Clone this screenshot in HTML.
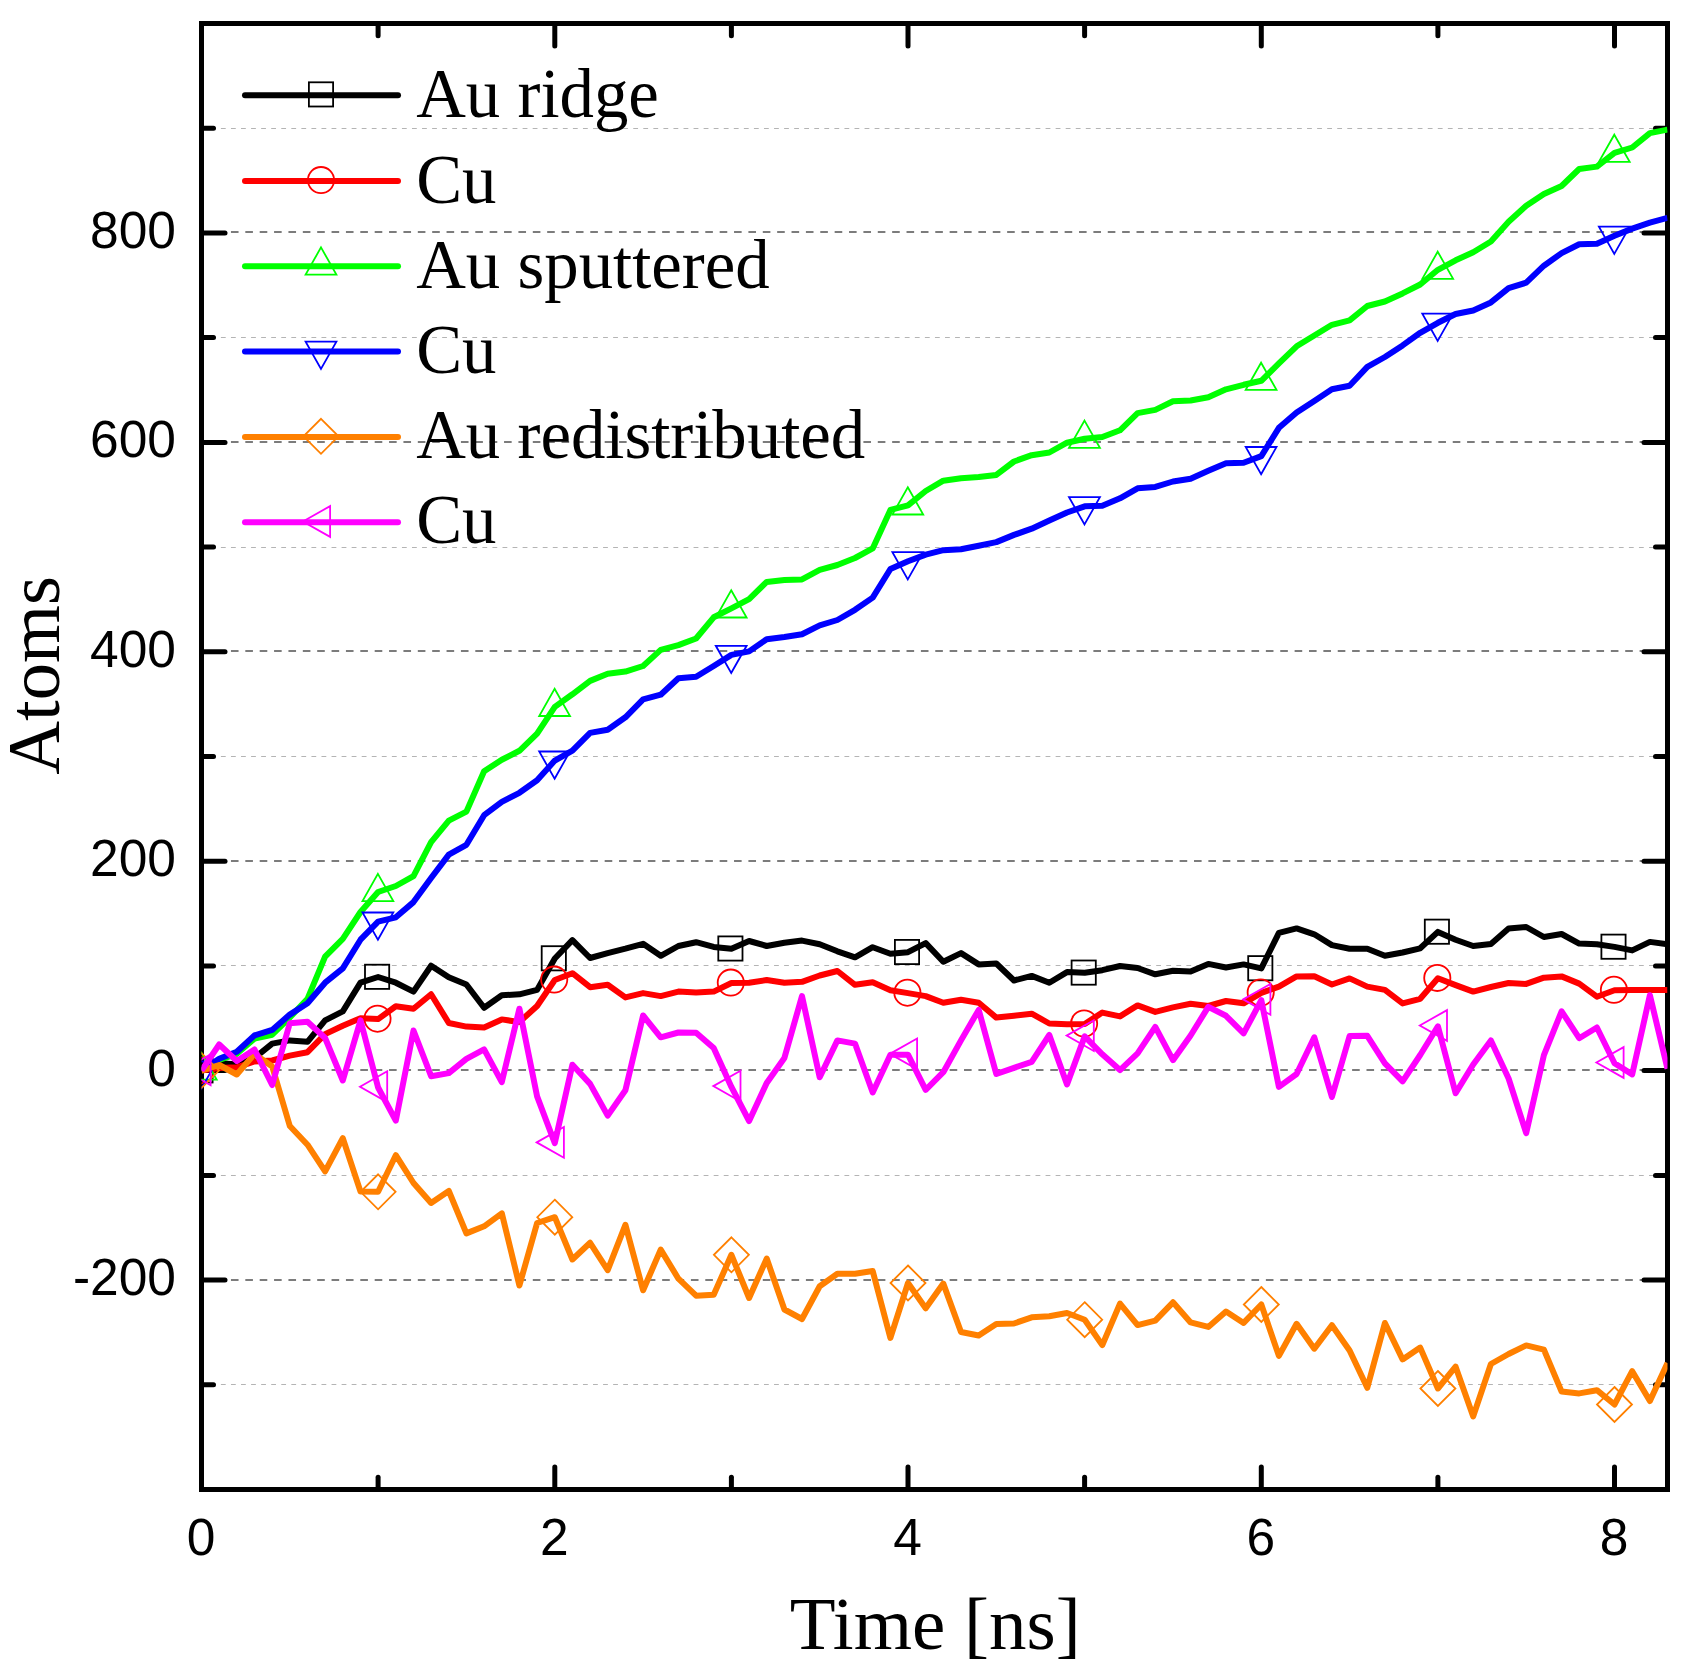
<!DOCTYPE html>
<html lang="en"><head><meta charset="utf-8"><title>Atoms vs Time</title>
<style>html,body{margin:0;padding:0;background:#fff}svg{display:block}
.tk{font-family:"Liberation Sans",Arial,sans-serif;font-size:51.5px;fill:#000}
.lg{font-family:"Liberation Serif","Times New Roman",serif;font-size:68.8px;fill:#000}
.ax{font-family:"Liberation Serif","Times New Roman",serif;font-size:75px;fill:#000}
</style></head><body>
<svg width="1689" height="1675" viewBox="0 0 1689 1675">
<rect width="1689" height="1675" fill="#fff"/>
<defs><clipPath id="pa"><rect x="201.5" y="23.5" width="1466" height="1466"/></clipPath></defs>
<g fill="none">
<line x1="200.8" y1="1384.5" x2="1667.5" y2="1384.5" stroke="#b4b4b4" stroke-width="1" stroke-dasharray="4.8 5.257"/>
<line x1="202.2" y1="1280.0" x2="1667.5" y2="1280.0" stroke="#7c7c7c" stroke-width="2" stroke-dasharray="7.6 6.774"/>
<line x1="200.8" y1="1175.5" x2="1667.5" y2="1175.5" stroke="#b4b4b4" stroke-width="1" stroke-dasharray="4.8 5.257"/>
<line x1="202.2" y1="1070.0" x2="1667.5" y2="1070.0" stroke="#7c7c7c" stroke-width="2" stroke-dasharray="7.6 6.774"/>
<line x1="200.8" y1="965.5" x2="1667.5" y2="965.5" stroke="#b4b4b4" stroke-width="1" stroke-dasharray="4.8 5.257"/>
<line x1="202.2" y1="861.0" x2="1667.5" y2="861.0" stroke="#7c7c7c" stroke-width="2" stroke-dasharray="7.6 6.774"/>
<line x1="200.8" y1="756.5" x2="1667.5" y2="756.5" stroke="#b4b4b4" stroke-width="1" stroke-dasharray="4.8 5.257"/>
<line x1="202.2" y1="651.0" x2="1667.5" y2="651.0" stroke="#7c7c7c" stroke-width="2" stroke-dasharray="7.6 6.774"/>
<line x1="200.8" y1="547.5" x2="1667.5" y2="547.5" stroke="#b4b4b4" stroke-width="1" stroke-dasharray="4.8 5.257"/>
<line x1="202.2" y1="442.0" x2="1667.5" y2="442.0" stroke="#7c7c7c" stroke-width="2" stroke-dasharray="7.6 6.774"/>
<line x1="200.8" y1="337.5" x2="1667.5" y2="337.5" stroke="#b4b4b4" stroke-width="1" stroke-dasharray="4.8 5.257"/>
<line x1="202.2" y1="232.0" x2="1667.5" y2="232.0" stroke="#7c7c7c" stroke-width="2" stroke-dasharray="7.6 6.774"/>
<line x1="200.8" y1="128.5" x2="1667.5" y2="128.5" stroke="#b4b4b4" stroke-width="1" stroke-dasharray="4.8 5.257"/>
</g>
<g stroke="#000" stroke-width="5" fill="none" stroke-linecap="round">
<rect x="201.5" y="23.5" width="1466" height="1466" stroke-linejoin="miter"/>
<line x1="378.1" y1="1489.5" x2="378.1" y2="1477.3"/><line x1="378.1" y1="23.5" x2="378.1" y2="35.7"/>
<line x1="554.8" y1="1489.5" x2="554.8" y2="1467"/><line x1="554.8" y1="23.5" x2="554.8" y2="46"/>
<line x1="731.4" y1="1489.5" x2="731.4" y2="1477.3"/><line x1="731.4" y1="23.5" x2="731.4" y2="35.7"/>
<line x1="908.0" y1="1489.5" x2="908.0" y2="1467"/><line x1="908.0" y1="23.5" x2="908.0" y2="46"/>
<line x1="1084.6" y1="1489.5" x2="1084.6" y2="1477.3"/><line x1="1084.6" y1="23.5" x2="1084.6" y2="35.7"/>
<line x1="1261.3" y1="1489.5" x2="1261.3" y2="1467"/><line x1="1261.3" y1="23.5" x2="1261.3" y2="46"/>
<line x1="1437.9" y1="1489.5" x2="1437.9" y2="1477.3"/><line x1="1437.9" y1="23.5" x2="1437.9" y2="35.7"/>
<line x1="1614.5" y1="1489.5" x2="1614.5" y2="1467"/><line x1="1614.5" y1="23.5" x2="1614.5" y2="46"/>
<line x1="201.5" y1="1384.8" x2="213.5" y2="1384.8"/><line x1="1667.5" y1="1384.8" x2="1655.5" y2="1384.8"/>
<line x1="201.5" y1="1280.1" x2="225" y2="1280.1"/><line x1="1667.5" y1="1280.1" x2="1644" y2="1280.1"/>
<line x1="201.5" y1="1175.4" x2="213.5" y2="1175.4"/><line x1="1667.5" y1="1175.4" x2="1655.5" y2="1175.4"/>
<line x1="201.5" y1="1070.6" x2="225" y2="1070.6"/><line x1="1667.5" y1="1070.6" x2="1644" y2="1070.6"/>
<line x1="201.5" y1="965.9" x2="213.5" y2="965.9"/><line x1="1667.5" y1="965.9" x2="1655.5" y2="965.9"/>
<line x1="201.5" y1="861.2" x2="225" y2="861.2"/><line x1="1667.5" y1="861.2" x2="1644" y2="861.2"/>
<line x1="201.5" y1="756.5" x2="213.5" y2="756.5"/><line x1="1667.5" y1="756.5" x2="1655.5" y2="756.5"/>
<line x1="201.5" y1="651.8" x2="225" y2="651.8"/><line x1="1667.5" y1="651.8" x2="1644" y2="651.8"/>
<line x1="201.5" y1="547.1" x2="213.5" y2="547.1"/><line x1="1667.5" y1="547.1" x2="1655.5" y2="547.1"/>
<line x1="201.5" y1="442.4" x2="225" y2="442.4"/><line x1="1667.5" y1="442.4" x2="1644" y2="442.4"/>
<line x1="201.5" y1="337.6" x2="213.5" y2="337.6"/><line x1="1667.5" y1="337.6" x2="1655.5" y2="337.6"/>
<line x1="201.5" y1="232.9" x2="225" y2="232.9"/><line x1="1667.5" y1="232.9" x2="1644" y2="232.9"/>
<line x1="201.5" y1="128.2" x2="213.5" y2="128.2"/><line x1="1667.5" y1="128.2" x2="1655.5" y2="128.2"/>
</g>
<g clip-path="url(#pa)">
<polyline points="201.5,1070.6 219.2,1063.0 236.8,1064.5 254.5,1058.0 272.2,1043.6 289.8,1040.4 307.5,1041.8 325.1,1020.3 342.8,1011.3 360.5,982.7 378.1,977.0 395.8,982.7 413.5,991.6 431.1,965.7 448.8,977.3 466.4,984.5 484.1,1007.8 501.8,995.2 519.4,994.3 537.1,989.9 554.8,958.5 572.4,940.2 590.1,958.0 607.7,953.1 625.4,948.7 643.1,943.8 660.7,955.8 678.4,946.0 696.1,942.2 713.7,946.9 731.4,948.7 749.1,941.0 766.7,946.0 784.4,942.7 802.0,940.6 819.7,944.2 837.4,951.3 855.0,957.3 872.7,947.2 890.4,953.7 908.0,952.2 925.7,943.1 943.3,961.7 961.0,953.1 978.7,964.4 996.3,963.5 1014.0,980.5 1031.7,975.9 1049.3,982.7 1067.0,972.1 1084.7,972.8 1102.3,970.2 1120.0,966.0 1137.6,968.0 1155.3,974.3 1173.0,970.7 1190.6,971.6 1208.3,963.9 1226.0,967.5 1243.6,964.4 1261.3,968.4 1278.9,932.9 1296.6,928.4 1314.3,934.3 1331.9,945.1 1349.6,948.7 1367.3,948.7 1384.9,955.8 1402.6,952.5 1420.2,948.3 1437.9,931.9 1455.6,939.7 1473.2,946.0 1490.9,944.0 1508.6,928.6 1526.2,927.0 1543.9,937.0 1561.6,934.0 1579.2,943.6 1596.9,944.2 1614.5,946.9 1632.2,950.4 1649.9,941.9 1667.5,944.2" fill="none" stroke="#000000" stroke-width="6" stroke-linejoin="round" stroke-linecap="butt"/>
<rect x="188.4" y="1058.3" width="24.2" height="24.2" stroke="#000000" stroke-width="1.8" fill="none"/>
<rect x="365.0" y="964.7" width="24.2" height="24.2" stroke="#000000" stroke-width="1.8" fill="none"/>
<rect x="541.7" y="946.2" width="24.2" height="24.2" stroke="#000000" stroke-width="1.8" fill="none"/>
<rect x="718.3" y="936.4" width="24.2" height="24.2" stroke="#000000" stroke-width="1.8" fill="none"/>
<rect x="894.9" y="939.9" width="24.2" height="24.2" stroke="#000000" stroke-width="1.8" fill="none"/>
<rect x="1071.6" y="960.5" width="24.2" height="24.2" stroke="#000000" stroke-width="1.8" fill="none"/>
<rect x="1248.2" y="956.1" width="24.2" height="24.2" stroke="#000000" stroke-width="1.8" fill="none"/>
<rect x="1424.8" y="919.6" width="24.2" height="24.2" stroke="#000000" stroke-width="1.8" fill="none"/>
<rect x="1601.4" y="934.6" width="24.2" height="24.2" stroke="#000000" stroke-width="1.8" fill="none"/>
<polyline points="201.5,1070.6 219.2,1068.0 236.8,1067.3 254.5,1061.5 272.2,1060.5 289.8,1055.6 307.5,1052.2 325.1,1034.1 342.8,1025.7 360.5,1018.2 378.1,1019.1 395.8,1006.3 413.5,1008.7 431.1,994.3 448.8,1023.0 466.4,1026.6 484.1,1027.5 501.8,1019.4 519.4,1022.1 537.1,1006.0 554.8,980.0 572.4,973.2 590.1,987.2 607.7,984.8 625.4,997.4 643.1,993.1 660.7,996.1 678.4,991.6 696.1,992.5 713.7,991.6 731.4,983.0 749.1,982.7 766.7,980.0 784.4,982.7 802.0,981.8 819.7,975.5 837.4,971.0 855.0,984.8 872.7,982.3 890.4,990.2 908.0,993.1 925.7,996.1 943.3,1002.8 961.0,999.7 978.7,1002.8 996.3,1017.6 1014.0,1015.8 1031.7,1013.7 1049.3,1023.5 1067.0,1024.2 1084.7,1023.9 1102.3,1012.6 1120.0,1016.4 1137.6,1005.4 1155.3,1011.9 1173.0,1007.4 1190.6,1003.8 1208.3,1006.0 1226.0,1001.0 1243.6,1003.3 1261.3,992.9 1278.9,986.6 1296.6,976.4 1314.3,976.2 1331.9,984.5 1349.6,978.4 1367.3,986.6 1384.9,989.9 1402.6,1003.4 1420.2,998.8 1437.9,978.3 1455.6,985.1 1473.2,991.6 1490.9,987.0 1508.6,983.0 1526.2,983.9 1543.9,977.7 1561.6,976.4 1579.2,983.6 1596.9,996.7 1614.5,990.2 1632.2,989.9 1649.9,989.9 1667.5,989.9" fill="none" stroke="#ff0000" stroke-width="6" stroke-linejoin="round" stroke-linecap="butt"/>
<circle cx="200.9" cy="1070.2" r="13.1" stroke="#ff0000" stroke-width="1.8" fill="none"/>
<circle cx="377.5" cy="1018.7" r="13.1" stroke="#ff0000" stroke-width="1.8" fill="none"/>
<circle cx="554.2" cy="979.6" r="13.1" stroke="#ff0000" stroke-width="1.8" fill="none"/>
<circle cx="730.8" cy="982.6" r="13.1" stroke="#ff0000" stroke-width="1.8" fill="none"/>
<circle cx="907.4" cy="992.7" r="13.1" stroke="#ff0000" stroke-width="1.8" fill="none"/>
<circle cx="1084.1" cy="1023.5" r="13.1" stroke="#ff0000" stroke-width="1.8" fill="none"/>
<circle cx="1260.7" cy="992.5" r="13.1" stroke="#ff0000" stroke-width="1.8" fill="none"/>
<circle cx="1437.3" cy="977.9" r="13.1" stroke="#ff0000" stroke-width="1.8" fill="none"/>
<circle cx="1613.9" cy="989.8" r="13.1" stroke="#ff0000" stroke-width="1.8" fill="none"/>
<polyline points="201.5,1070.6 219.2,1060.0 236.8,1053.8 254.5,1038.6 272.2,1034.7 289.8,1017.5 307.5,998.8 325.1,956.7 342.8,938.8 360.5,912.0 378.1,892.0 395.8,886.0 413.5,876.1 431.1,842.1 448.8,820.6 466.4,811.6 484.1,771.3 501.8,759.7 519.4,750.8 537.1,733.7 554.8,706.9 572.4,694.3 590.1,680.9 607.7,673.7 625.4,671.6 643.1,666.0 660.7,649.9 678.4,645.1 696.1,638.5 713.7,617.3 731.4,608.4 749.1,599.1 766.7,581.9 784.4,580.1 802.0,579.4 819.7,569.9 837.4,565.0 855.0,558.0 872.7,548.4 890.4,509.9 908.0,505.4 925.7,491.0 943.3,480.7 961.0,478.2 978.7,477.1 996.3,474.9 1014.0,461.5 1031.7,455.2 1049.3,452.5 1067.0,442.7 1084.7,438.7 1102.3,437.0 1120.0,430.3 1137.6,413.1 1155.3,409.9 1173.0,401.3 1190.6,400.5 1208.3,397.3 1226.0,389.3 1243.6,384.8 1261.3,380.8 1278.9,363.3 1296.6,346.3 1314.3,335.5 1331.9,324.8 1349.6,320.3 1367.3,306.0 1384.9,301.5 1402.6,293.4 1420.2,284.5 1437.9,269.8 1455.6,260.3 1473.2,252.2 1490.9,241.5 1508.6,221.8 1526.2,205.7 1543.9,194.0 1561.6,186.0 1579.2,169.0 1596.9,166.6 1614.5,152.8 1632.2,147.5 1649.9,133.1 1667.5,129.6" fill="none" stroke="#00ff00" stroke-width="6" stroke-linejoin="round" stroke-linecap="butt"/>
<path d="M201.3 1052.5 L216.7 1079.7 L185.9 1079.7 Z" stroke="#00ff00" stroke-width="1.8" fill="none"/>
<path d="M377.9 873.9 L393.3 901.1 L362.5 901.1 Z" stroke="#00ff00" stroke-width="1.8" fill="none"/>
<path d="M554.6 688.8 L570.0 716.0 L539.2 716.0 Z" stroke="#00ff00" stroke-width="1.8" fill="none"/>
<path d="M731.2 590.3 L746.6 617.5 L715.8 617.5 Z" stroke="#00ff00" stroke-width="1.8" fill="none"/>
<path d="M907.8 487.3 L923.2 514.5 L892.4 514.5 Z" stroke="#00ff00" stroke-width="1.8" fill="none"/>
<path d="M1084.5 420.6 L1099.9 447.8 L1069.0 447.8 Z" stroke="#00ff00" stroke-width="1.8" fill="none"/>
<path d="M1261.1 362.7 L1276.5 389.9 L1245.7 389.9 Z" stroke="#00ff00" stroke-width="1.8" fill="none"/>
<path d="M1437.7 251.7 L1453.1 278.9 L1422.3 278.9 Z" stroke="#00ff00" stroke-width="1.8" fill="none"/>
<path d="M1614.3 134.7 L1629.7 161.9 L1598.9 161.9 Z" stroke="#00ff00" stroke-width="1.8" fill="none"/>
<polyline points="201.5,1070.6 219.2,1058.7 236.8,1051.8 254.5,1035.4 272.2,1029.9 289.8,1014.6 307.5,1003.3 325.1,982.7 342.8,968.4 360.5,939.7 378.1,921.6 395.8,917.3 413.5,902.1 431.1,877.9 448.8,854.6 466.4,844.8 484.1,815.2 501.8,801.8 519.4,792.8 537.1,780.3 554.8,760.6 572.4,750.7 590.1,732.9 607.7,729.8 625.4,717.3 643.1,699.4 660.7,694.7 678.4,678.2 696.1,676.8 713.7,666.0 731.4,654.9 749.1,651.4 766.7,639.2 784.4,637.0 802.0,634.3 819.7,625.4 837.4,620.0 855.0,609.8 872.7,597.6 890.4,569.0 908.0,561.3 925.7,554.6 943.3,550.2 961.0,549.3 978.7,545.7 996.3,542.1 1014.0,534.9 1031.7,528.7 1049.3,520.6 1067.0,512.5 1084.7,506.3 1102.3,505.7 1120.0,498.3 1137.6,488.3 1155.3,486.9 1173.0,481.5 1190.6,478.8 1208.3,470.8 1226.0,463.2 1243.6,462.7 1261.3,456.1 1278.9,427.8 1296.6,412.5 1314.3,400.9 1331.9,389.3 1349.6,385.7 1367.3,366.9 1384.9,357.0 1402.6,345.4 1420.2,332.8 1437.9,322.8 1455.6,314.0 1473.2,310.5 1490.9,302.4 1508.6,288.1 1526.2,282.7 1543.9,265.7 1561.6,253.1 1579.2,244.2 1596.9,243.8 1614.5,235.8 1632.2,228.6 1649.9,222.7 1667.5,217.9" fill="none" stroke="#0000ff" stroke-width="6" stroke-linejoin="round" stroke-linecap="butt"/>
<path d="M201.3 1088.7 L216.7 1061.5 L185.9 1061.5 Z" stroke="#0000ff" stroke-width="1.8" fill="none"/>
<path d="M377.9 939.7 L393.3 912.5 L362.5 912.5 Z" stroke="#0000ff" stroke-width="1.8" fill="none"/>
<path d="M554.6 778.7 L570.0 751.5 L539.2 751.5 Z" stroke="#0000ff" stroke-width="1.8" fill="none"/>
<path d="M731.2 673.0 L746.6 645.8 L715.8 645.8 Z" stroke="#0000ff" stroke-width="1.8" fill="none"/>
<path d="M907.8 579.4 L923.2 552.2 L892.4 552.2 Z" stroke="#0000ff" stroke-width="1.8" fill="none"/>
<path d="M1084.5 524.4 L1099.9 497.2 L1069.0 497.2 Z" stroke="#0000ff" stroke-width="1.8" fill="none"/>
<path d="M1261.1 474.2 L1276.5 447.0 L1245.7 447.0 Z" stroke="#0000ff" stroke-width="1.8" fill="none"/>
<path d="M1437.7 340.9 L1453.1 313.7 L1422.3 313.7 Z" stroke="#0000ff" stroke-width="1.8" fill="none"/>
<path d="M1614.3 253.9 L1629.7 226.7 L1598.9 226.7 Z" stroke="#0000ff" stroke-width="1.8" fill="none"/>
<polyline points="201.5,1070.6 219.2,1065.0 236.8,1074.5 254.5,1054.0 272.2,1066.5 289.8,1126.0 307.5,1144.7 325.1,1171.4 342.8,1138.2 360.5,1191.6 378.1,1191.8 395.8,1155.2 413.5,1183.0 431.1,1203.0 448.8,1191.0 466.4,1233.4 484.1,1226.3 501.8,1213.3 519.4,1285.5 537.1,1223.0 554.8,1217.2 572.4,1259.5 590.1,1242.8 607.7,1270.2 625.4,1224.9 643.1,1290.3 660.7,1249.6 678.4,1278.7 696.1,1295.7 713.7,1294.8 731.4,1254.8 749.1,1298.0 766.7,1258.6 784.4,1309.5 802.0,1319.0 819.7,1286.3 837.4,1273.7 855.0,1273.7 872.7,1271.0 890.4,1337.9 908.0,1283.0 925.7,1308.3 943.3,1283.6 961.0,1332.0 978.7,1335.5 996.3,1323.9 1014.0,1323.5 1031.7,1317.3 1049.3,1316.2 1067.0,1313.0 1084.7,1319.7 1102.3,1345.1 1120.0,1303.6 1137.6,1325.1 1155.3,1320.6 1173.0,1302.3 1190.6,1322.4 1208.3,1326.9 1226.0,1311.6 1243.6,1322.9 1261.3,1304.5 1278.9,1355.9 1296.6,1323.8 1314.3,1348.7 1331.9,1325.2 1349.6,1350.5 1367.3,1387.8 1384.9,1323.0 1402.6,1359.4 1420.2,1347.6 1437.9,1388.5 1455.6,1366.7 1473.2,1416.4 1490.9,1364.0 1508.6,1354.0 1526.2,1345.4 1543.9,1349.6 1561.6,1391.6 1579.2,1393.4 1596.9,1390.2 1614.5,1404.5 1632.2,1371.2 1649.9,1401.0 1667.5,1363.0" fill="none" stroke="#ff8000" stroke-width="6" stroke-linejoin="round" stroke-linecap="butt"/>
<path d="M201.5 1053.1 L219.0 1070.6 L201.5 1088.1 L184.0 1070.6 Z" stroke="#ff8000" stroke-width="1.8" fill="none"/>
<path d="M378.1 1174.3 L395.6 1191.8 L378.1 1209.3 L360.6 1191.8 Z" stroke="#ff8000" stroke-width="1.8" fill="none"/>
<path d="M554.8 1199.7 L572.3 1217.2 L554.8 1234.7 L537.3 1217.2 Z" stroke="#ff8000" stroke-width="1.8" fill="none"/>
<path d="M731.4 1237.3 L748.9 1254.8 L731.4 1272.3 L713.9 1254.8 Z" stroke="#ff8000" stroke-width="1.8" fill="none"/>
<path d="M908.0 1265.5 L925.5 1283.0 L908.0 1300.5 L890.5 1283.0 Z" stroke="#ff8000" stroke-width="1.8" fill="none"/>
<path d="M1084.7 1302.2 L1102.2 1319.7 L1084.7 1337.2 L1067.2 1319.7 Z" stroke="#ff8000" stroke-width="1.8" fill="none"/>
<path d="M1261.3 1287.0 L1278.8 1304.5 L1261.3 1322.0 L1243.8 1304.5 Z" stroke="#ff8000" stroke-width="1.8" fill="none"/>
<path d="M1437.9 1371.0 L1455.4 1388.5 L1437.9 1406.0 L1420.4 1388.5 Z" stroke="#ff8000" stroke-width="1.8" fill="none"/>
<path d="M1614.5 1387.0 L1632.0 1404.5 L1614.5 1422.0 L1597.0 1404.5 Z" stroke="#ff8000" stroke-width="1.8" fill="none"/>
<polyline points="201.5,1070.6 219.2,1044.5 236.8,1061.0 254.5,1049.5 272.2,1085.0 289.8,1023.2 307.5,1021.7 325.1,1038.0 342.8,1080.5 360.5,1020.3 378.1,1087.5 395.8,1120.6 413.5,1030.5 431.1,1076.2 448.8,1073.1 466.4,1058.8 484.1,1049.3 501.8,1082.1 519.4,1008.7 537.1,1096.4 554.8,1143.2 572.4,1064.7 590.1,1083.9 607.7,1115.6 625.4,1090.2 643.1,1015.5 660.7,1037.3 678.4,1032.5 696.1,1032.8 713.7,1048.1 731.4,1086.9 749.1,1121.0 766.7,1083.0 784.4,1057.9 802.0,996.1 819.7,1077.3 837.4,1040.4 855.0,1043.6 872.7,1092.5 890.4,1054.7 908.0,1054.7 925.7,1089.8 943.3,1072.2 961.0,1040.4 978.7,1009.9 996.3,1074.0 1014.0,1067.8 1031.7,1061.9 1049.3,1035.0 1067.0,1084.4 1084.7,1036.4 1102.3,1054.3 1120.0,1070.1 1137.6,1053.4 1155.3,1026.9 1173.0,1060.2 1190.6,1035.5 1208.3,1006.9 1226.0,1015.8 1243.6,1033.4 1261.3,1000.2 1278.9,1086.9 1296.6,1074.0 1314.3,1037.3 1331.9,1097.0 1349.6,1036.0 1367.3,1035.8 1384.9,1063.3 1402.6,1081.3 1420.2,1055.0 1437.9,1026.3 1455.6,1093.3 1473.2,1064.5 1490.9,1040.5 1508.6,1078.5 1526.2,1133.1 1543.9,1055.2 1561.6,1011.3 1579.2,1038.2 1596.9,1027.5 1614.5,1063.3 1632.2,1074.4 1649.9,995.2 1667.5,1068.7" fill="none" stroke="#ff00ff" stroke-width="6" stroke-linejoin="round" stroke-linecap="butt"/>
<path d="M183.4 1069.8 L210.6 1054.4 L210.6 1085.2 Z" stroke="#ff00ff" stroke-width="1.8" fill="none"/>
<path d="M360.0 1086.7 L387.2 1071.3 L387.2 1102.1 Z" stroke="#ff00ff" stroke-width="1.8" fill="none"/>
<path d="M536.7 1142.4 L563.9 1127.0 L563.9 1157.8 Z" stroke="#ff00ff" stroke-width="1.8" fill="none"/>
<path d="M713.3 1086.1 L740.5 1070.7 L740.5 1101.5 Z" stroke="#ff00ff" stroke-width="1.8" fill="none"/>
<path d="M889.9 1053.9 L917.1 1038.5 L917.1 1069.3 Z" stroke="#ff00ff" stroke-width="1.8" fill="none"/>
<path d="M1066.6 1035.6 L1093.8 1020.2 L1093.8 1051.0 Z" stroke="#ff00ff" stroke-width="1.8" fill="none"/>
<path d="M1243.2 999.4 L1270.4 984.0 L1270.4 1014.8 Z" stroke="#ff00ff" stroke-width="1.8" fill="none"/>
<path d="M1419.8 1025.5 L1447.0 1010.1 L1447.0 1040.9 Z" stroke="#ff00ff" stroke-width="1.8" fill="none"/>
<path d="M1596.4 1062.5 L1623.6 1047.1 L1623.6 1077.9 Z" stroke="#ff00ff" stroke-width="1.8" fill="none"/>
</g>
<text class="tk" x="201.0" y="1555.2" text-anchor="middle">0</text>
<text class="tk" x="554.3" y="1555.2" text-anchor="middle">2</text>
<text class="tk" x="907.5" y="1555.2" text-anchor="middle">4</text>
<text class="tk" x="1260.8" y="1555.2" text-anchor="middle">6</text>
<text class="tk" x="1614.0" y="1555.2" text-anchor="middle">8</text>
<text class="tk" x="176" y="1295.1" text-anchor="end">-200</text>
<text class="tk" x="176" y="1085.6" text-anchor="end">0</text>
<text class="tk" x="176" y="876.2" text-anchor="end">200</text>
<text class="tk" x="176" y="666.8" text-anchor="end">400</text>
<text class="tk" x="176" y="457.4" text-anchor="end">600</text>
<text class="tk" x="176" y="247.9" text-anchor="end">800</text>
<text class="ax" x="935.2" y="1649.2" text-anchor="middle">Time [ns]</text>
<text class="ax" style="font-size:74.5px" transform="translate(58.6,675.4) rotate(-90)" text-anchor="middle">Atoms</text>
<line x1="245" y1="95.2" x2="398" y2="95.2" stroke="#000000" stroke-width="6" stroke-linecap="round"/>
<rect x="308.9" y="82.3" width="24.2" height="24.2" stroke="#000000" stroke-width="1.8" fill="none"/>
<text class="lg" x="416.2" y="117.4">Au ridge</text>
<line x1="245" y1="180.9" x2="398" y2="180.9" stroke="#ff0000" stroke-width="6" stroke-linecap="round"/>
<circle cx="321.0" cy="180.1" r="13.1" stroke="#ff0000" stroke-width="1.8" fill="none"/>
<text class="lg" x="416.2" y="202.6">Cu</text>
<line x1="245" y1="266.3" x2="398" y2="266.3" stroke="#00ff00" stroke-width="6" stroke-linecap="round"/>
<path d="M321.0 247.4 L336.4 274.6 L305.6 274.6 Z" stroke="#00ff00" stroke-width="1.8" fill="none"/>
<text class="lg" x="416.2" y="287.8">Au sputtered</text>
<line x1="245" y1="351.6" x2="398" y2="351.6" stroke="#0000ff" stroke-width="6" stroke-linecap="round"/>
<path d="M321.0 368.9 L336.4 341.7 L305.6 341.7 Z" stroke="#0000ff" stroke-width="1.8" fill="none"/>
<text class="lg" x="416.2" y="373.0">Cu</text>
<line x1="245" y1="437.1" x2="398" y2="437.1" stroke="#ff8000" stroke-width="6" stroke-linecap="round"/>
<path d="M321.0 418.8 L338.5 436.3 L321.0 453.8 L303.5 436.3 Z" stroke="#ff8000" stroke-width="1.8" fill="none"/>
<text class="lg" x="416.2" y="458.2">Au redistributed</text>
<line x1="245" y1="522.3" x2="398" y2="522.3" stroke="#ff00ff" stroke-width="6" stroke-linecap="round"/>
<path d="M302.9 521.5 L330.1 506.1 L330.1 536.9 Z" stroke="#ff00ff" stroke-width="1.8" fill="none"/>
<text class="lg" x="416.2" y="543.4">Cu</text>
</svg>
</body></html>
